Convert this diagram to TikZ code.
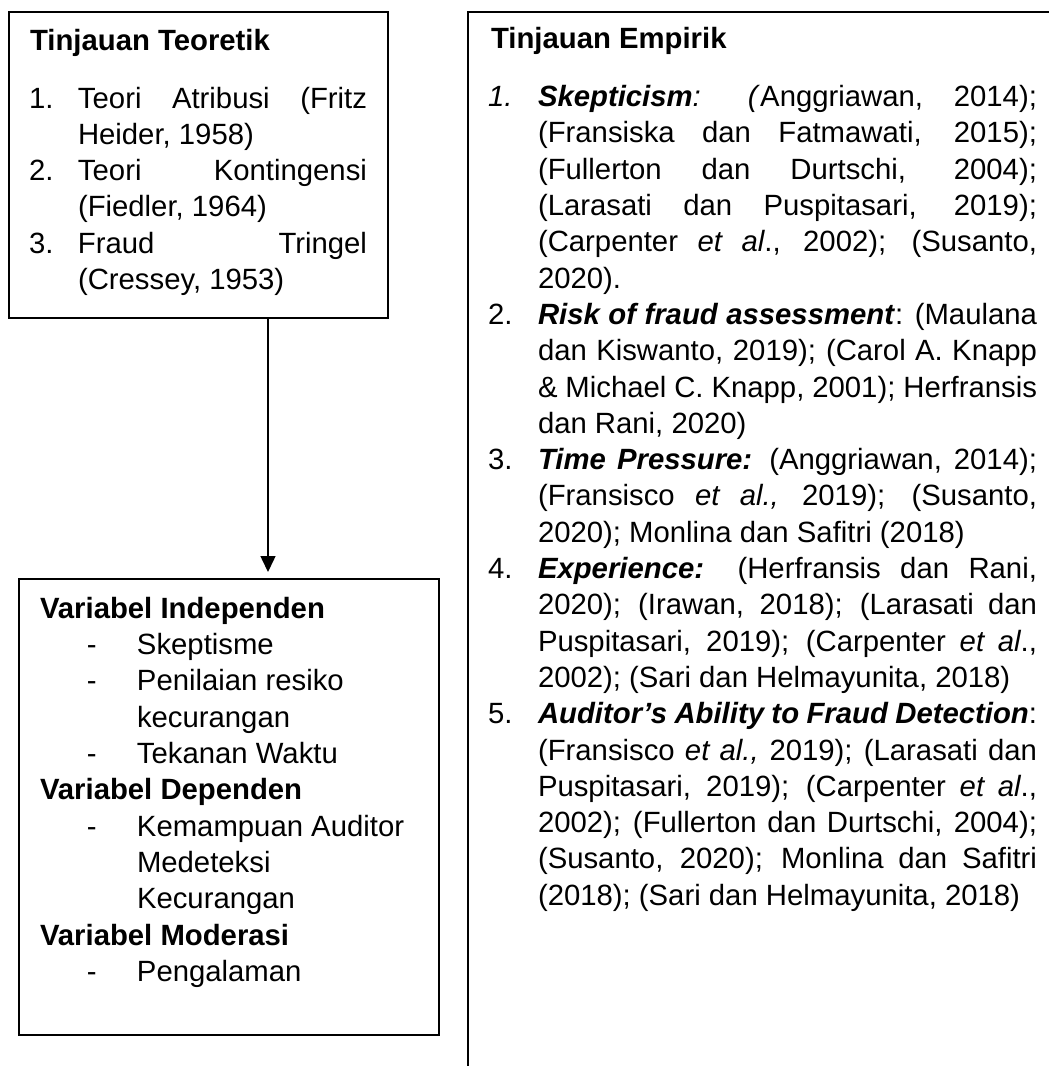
\documentclass[tikz,border=0pt]{standalone}
\usepackage{fontspec}
\setmainfont{Liberation Sans}
\usetikzlibrary{arrows.meta}
\newlength\numw
\newlength\txtw
\newcommand{\bodyfont}{\fontsize{29.3pt}{36.3pt}\selectfont}
\newcommand{\jl}[2]{\noindent\makebox[\numw][l]{#1}\makebox[\txtw][s]{#2}\par}
\newcommand{\lastl}[2]{\noindent\makebox[\numw][l]{#1}#2\par}
\newcommand{\bi}[1]{\textbf{\textit{#1}}}
\newcommand{\dl}[2]{\noindent\hspace*{47pt}\makebox[50pt][l]{#1}#2\par}
\tikzset{
  frame/.style={draw=black, line width=1.8pt, inner sep=0pt, outer sep=0pt, anchor=north west},
  txt/.style={anchor=base west, inner sep=0pt, outer sep=0pt},
  link/.style={draw=black, line width=1.5pt, -{Triangle[width=15pt,length=16pt]}, shorten >=7pt}
}
\begin{document}
\begin{tikzpicture}[x=1pt, y=-1pt]
\path[use as bounding box, fill=white] (0,0) rectangle (1049,1066);

% Box 1: Tinjauan Teoretik
\node[frame, minimum width=379pt, minimum height=306pt] (t1) at (9,12) {};
\node[txt] (t1txt) at (29,50) {\parbox[t]{360pt}{\bodyfont
  \setlength\numw{49pt}\setlength\txtw{289pt}%
  \noindent\hspace*{1pt}\textbf{Tinjauan Teoretik}\par
  \vspace{21.7pt}
  \jl{1.}{Teori Atribusi (Fritz}
  \lastl{}{Heider, 1958)}
  \jl{2.}{Teori Kontingensi}
  \lastl{}{(Fiedler, 1964)}
  \jl{3.}{Fraud Tringel}
  \lastl{}{(Cressey, 1953)}
}};

% Box 3: Variabel
\node[frame, minimum width=420pt, minimum height=456pt] (v1) at (19,579) {};
\node[txt] (v1txt) at (40,618.3) {\parbox[t]{395pt}{\bodyfont
  \noindent\textbf{Variabel Independen}\par
  \dl{-}{Skeptisme}
  \dl{-}{Penilaian resiko}
  \dl{}{kecurangan}
  \dl{-}{Tekanan Waktu}
  \noindent\textbf{Variabel Dependen}\par
  \dl{-}{Kemampuan Auditor}
  \dl{}{Medeteksi}
  \dl{}{Kecurangan}
  \noindent\textbf{Variabel Moderasi}\par
  \dl{-}{Pengalaman}
}};

% Arrow
\coordinate (ax) at (268,0);
\draw[link] (t1.south -| ax) -- (v1.north -| ax);

% Box 2: Tinjauan Empirik (open frame, cut by the page)
\coordinate (e1) at (468,12);
\coordinate (e1r) at (1049,12);
\coordinate (e1b) at (468,1066);
\draw[line width=2pt] (e1r) -- (e1) -- (e1b);
\node[txt] (e1txt) at (488,48.3) {\parbox[t]{555pt}{\bodyfont
  \setlength\numw{50pt}\setlength\txtw{499pt}%
  \noindent\hspace*{3pt}\textbf{Tinjauan Empirik}\par
  \vspace{22pt}
  \jl{\textit{1.}}{\bi{Skepticism}\textit{: (}Anggriawan, 2014);}
  \jl{}{(Fransiska dan Fatmawati, 2015);}
  \jl{}{(Fullerton dan Durtschi, 2004);}
  \jl{}{(Larasati dan Puspitasari, 2019);}
  \jl{}{(Carpenter \textit{et al}., 2002); (Susanto,}
  \lastl{}{2020).}
  \jl{2.}{\bi{Risk of fraud assessment}: (Maulana}
  \jl{}{dan Kiswanto, 2019); (Carol A. Knapp}
  \jl{}{\& Michael C. Knapp, 2001); Herfransis}
  \lastl{}{dan Rani, 2020)}
  \jl{3.}{\bi{Time Pressure:} (Anggriawan, 2014);}
  \jl{}{(Fransisco \textit{et al.,} 2019); (Susanto,}
  \lastl{}{2020); Monlina dan Safitri (2018)}
  \jl{4.}{\bi{Experience:} (Herfransis dan Rani,}
  \jl{}{2020); (Irawan, 2018); (Larasati dan}
  \jl{}{Puspitasari, 2019); (Carpenter \textit{et al}.,}
  \lastl{}{2002); (Sari dan Helmayunita, 2018)}
  \jl{5.}{\bi{Auditor’s Ability to Fraud Detection}:}
  \jl{}{(Fransisco \textit{et al.,} 2019); (Larasati dan}
  \jl{}{Puspitasari, 2019); (Carpenter \textit{et al}.,}
  \jl{}{2002); (Fullerton dan Durtschi, 2004);}
  \jl{}{(Susanto, 2020); Monlina dan Safitri}
  \lastl{}{(2018); (Sari dan Helmayunita, 2018)}
}};
\end{tikzpicture}
\end{document}
